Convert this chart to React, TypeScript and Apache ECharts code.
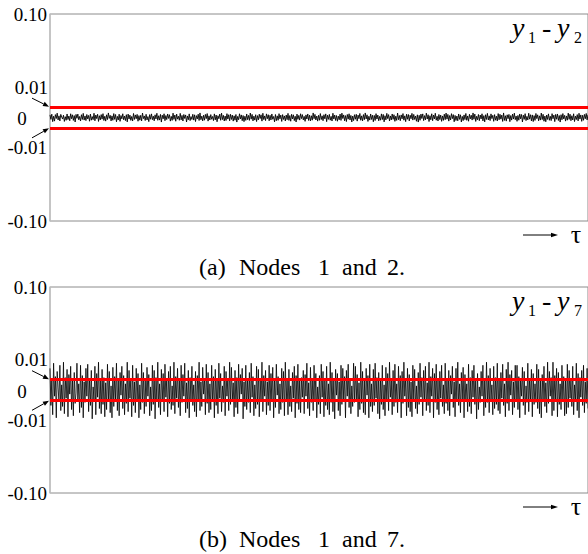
import React, { useEffect, useRef } from "react";
import * as echarts from "echarts";

// Synchronisation errors y1 - y2, in units of 1e-4
const diff12: number[] = [
  25, -18, 32, -40, 12, -35, 28, -10, 42, -24, 16, -33, 30, 5, -15, 22, -38, 8, -27, 34,
  -20, 14, -31, 36, -12, 26, -28, 18, -43, 30, -8, 33, -22, 10, -34, 27, -19, 40, -25, 15,
  -30, 29, -14, 20, -36, 33, -26, 9, -21, 41, -32, 24, -11, 31, -38, 17, -23, 28, -16, 37,
  -29, 12, -35, 26, -20, 44, -9, 21, -33, 16, -27, 38, -18, 29, -41, 11, -24, 32, -37, 19,
  -13, 36, -22, 14, -30, 27, -42, 33, -15, 23, -28, 10, -34, 39, -19, 25, -12, 30, -36, 18,
  -26, 21, -33, 43, -11, 15, -29, 31, -24, 9, -40, 28, -17, 35, -21, 13, -32, 26, -14, 41,
  -27, 17, -25, 30, -44, 22, -13, 36, -31, 19, -20, 34, -9, 27, -35, 11, -28, 42, -18, 24,
  -36, 33, -16, 12, -27, 40, -23, 20, -34, 29, -10, 25, -43, 15, -22, 35, -30, 9, -19, 31,
  -25, 26, -39, 18, -14, 32, -29, 44, -21, 13, -33, 22, -26, 30, -11, 38, -35, 16, -24, 28,
  -17, 10, -30, 35, -23, 24, -41, 17, -12, 33, -27, 42, -20, 21, -34, 14, -29, 37, -15, 27,
  -32, 31, -19, 23, -35, 16, -26, 29, -44, 11, -22, 36, -14, 25, -31, 19, -40, 12, -28, 34,
  -21, 20, -28, 43, -16, 30, -33, 13, -25, 27, -39, 18, -23, 32, -10, 26, -35, 41, -20, 15,
  -30, 35, -12, 27, -32, 21, -24, 34, -17, 10, -42, 29, -31, 16, -27, 37, -13, 23, -38, 28,
  -19, 15, -34, 24, -21, 40, -28, 19, -36, 31, -14, 26, -30, 12, -43, 33, -18, 20, -25, 36,
  -11, 28, -23, 11, -37, 25, -15, 34, -29, 22, -33, 17, -26, 44, -12, 30, -24, 14, -35, 21,
  -27, 38, -20, 16, -31, 27, -13, 35, -40, 22, -18, 30, -26, 11, -34, 41, -15, 24, -29, 19,
  -36, 13, -22, 33, -28, 42, -10, 25, -32, 18, -39, 29, -16, 36, -24, 20, -43, 14, -30, 27,
  -17, 31, -35, 23, -12, 39, -27, 16, -33, 28, -21, 44, -14, 26, -38, 12, -25, 34, -19, 22,
  -41, 20, -29, 37, -15, 24, -32, 11, -26, 35, -20, 30, -42, 17, -23, 40, -11, 28, -34, 15,
  -24, 34, -18, 27, -37, 13, -28, 43, -21, 19, -31, 25, -13, 38, -26, 16, -40, 32, -17, 29,
  -33, 22, -12, 40, -25, 30, -19, 14, -36, 26, -44, 21, -27, 33, -10, 35, -30, 18, -23, 42,
  -15, 27, -39, 17, -22, 36, -31, 24, -14, 41, -26, 12, -34, 29, -20, 23, -37, 15, -28, 32,
  -21, 43, -16, 30, -35, 19, -24, 37, -11, 28, -41, 20, -29, 14, -32, 34, -18, 26, -43, 11,
  -30, 25, -20, 39, -27, 15, -36, 31, -13, 22, -25, 44, -17, 33, -38, 12, -22, 29, -31, 24,
  -14, 36, -33, 18, -42, 27, -19, 40, -24, 16, -30, 35, -11, 21, -37, 28, -26, 13, -34, 38,
  -22, 31, -16, 23, -38, 44, -28, 17, -35, 26, -12, 30, -40, 19, -25, 33, -15, 42, -21, 14,
  -37, 20, -26, 34, -13, 29, -43, 22, -18, 37, -30, 11, -24, 41, -16, 27, -33, 25, -39, 18,
  -28, 39, -11, 26, -32, 16, -25, 43, -20, 31, -36, 14, -41, 24, -19, 35, -27, 12, -30, 37,
  -12, 23, -40, 30, -17, 34, -29, 19, -44, 27, -22, 38, -14, 21, -35, 15, -26, 42, -18, 32,
  -31, 17, -24, 36, -39, 13, -20, 28, -33, 41, -15, 25, -37, 22, -27, 30, -12, 39, -23, 26,
];

// Synchronisation errors y1 - y7, in units of 1e-4
const diff17: number[] = [
  210, -150, 90, -240, 260, -60, 130, -270, 180, 20, -110, 240, -200, 50, -160, 270, -230, 120, -80, 200,
  -260, 150, -40, 230, -190, 100, -250, 170, -130, -30, 260, -90, 60, -220, 240, -170, 140, -270, 80, -120,
  210, -60, 250, -210, 110, -150, 190, -280, 30, -100, 230, -240, 160, -70, 270, -180, 90, -230, 200, -140,
  120, -260, 70, -190, 250, -110, 180, -220, 40, -270, 220, -160, 130, -90, 260, -200, 100, -250, 170, -50,
  230, -180, 140, -240, 60, -130, 270, -210, 190, -80, 110, -260, 240, -150, 80, -220, 210, -100, 160, -270,
  50, -190, 260, -120, 170, -230, 90, -160, 220, -60, 150, -250, 30, -200, 240, -140, 190, -280, 120, -90,
  270, -170, 60, -240, 200, -110, 160, -210, 250, -70, 100, -260, 180, -130, 230, -190, 40, -150, 270, -230,
  130, -80, 210, -170, 90, -250, 240, -120, 150, -60, 260, -220, 70, -180, 190, -270, 120, -100, 230, -150,
  50, -210, 180, -260, 140, -90, 270, -200, 80, -160, 220, -40, 110, -240, 250, -130, 170, -220, 60, -190,
  240, -110, 130, -270, 200, -150, 90, -230, 260, -80, 160, -210, 40, -120, 230, -250, 180, -60, 110, -200,
  270, -140, 220, -90, 70, -260, 190, -170, 120, -230, 250, -100, 150, -40, 210, -280, 80, -160, 240, -190,
  100, -120, 170, -220, 260, -70, 130, -250, 50, -180, 230, -140, 200, -260, 90, -110, 270, -210, 140, -60,
  190, -240, 80, -150, 240, -200, 160, -90, 220, -270, 110, -170, 250, -50, 130, -230, 60, -190, 210, -120,
  180, -250, 270, -110, 100, -240, 200, -160, 40, -210, 170, -80, 230, -270, 140, -130, 250, -190, 90, -220,
  120, -70, 190, -230, 150, -60, 260, -180, 70, -250, 220, -120, 110, -200, 240, -90, 160, -270, 30, -140,
  140, -230, 250, -70, 180, -260, 100, -150, 230, -190, 60, -240, 270, -120, 170, -210, 90, -280, 200, -50,
  160, -200, 80, -250, 240, -140, 210, -90, 130, -270, 190, -60, 250, -170, 110, -230, 40, -160, 260, -120,
  230, -100, 150, -260, 70, -190, 270, -130, 180, -220, 90, -240, 210, -50, 140, -270, 250, -160, 60, -210,
  200, -150, 260, -80, 120, -230, 170, -280, 100, -140, 240, -190, 50, -250, 220, -110, 160, -200, 270, -70,
  90, -240, 190, -160, 250, -120, 60, -220, 230, -90, 140, -270, 180, -130, 270, -60, 110, -250, 210, -170,
  150, -210, 80, -260, 240, -100, 200, -180, 40, -230, 170, -140, 260, -70, 120, -250, 190, -110, 230, -200,
  70, -150, 270, -220, 130, -60, 210, -270, 160, -120, 250, -190, 90, -240, 180, -80, 240, -160, 50, -230,
  260, -130, 110, -200, 190, -250, 140, -40, 230, -170, 80, -260, 210, -110, 270, -150, 60, -220, 170, -90,
  220, -270, 150, -100, 60, -210, 250, -160, 120, -230, 190, -70, 240, -140, 100, -280, 160, -190, 30, -120,
  180, -60, 240, -250, 90, -170, 270, -120, 140, -220, 210, -90, 50, -240, 230, -180, 120, -140, 260, -200,
  110, -230, 170, -80, 250, -150, 60, -260, 200, -130, 270, -200, 150, -50, 190, -240, 80, -170, 240, -110,
  240, -190, 130, -270, 100, -60, 220, -150, 180, -240, 40, -120, 260, -210, 110, -90, 200, -260, 160, -140,
  60, -120, 250, -180, 200, -230, 90, -270, 150, -100, 230, -160, 70, -220, 270, -130, 180, -60, 120, -250,
  270, -200, 140, -90, 210, -260, 170, -140, 60, -190, 240, -110, 130, -250, 90, -230, 250, -170, 190, -80,
  100, -160, 230, -240, 50, -110, 260, -200, 160, -270, 120, -70, 190, -150, 240, -220, 80, -130, 210, -180,
];

const bandLimits = [0.01, -0.01];
const bandLabels = ["0.01", "-0.01"];
const zeroLabel = "0";
const yRange = [-0.1, 0.1];
const panelTitles = [
  ["y", "1", "y", "2"],
  ["y", "1", "y", "7"],
];
const captions = [
  ["(a)", "Nodes", "1", "and", "2."],
  ["(b)", "Nodes", "1", "and", "7."],
];
const series = [diff12, diff17];
const lineWidths = [0.9, 0.8];

const FONT = "Liberation Serif";
const INK = "#000";

function arrow(x1: number, y1: number, x2: number, y2: number, head = 6, hw = 2.4) {
  const dx = x2 - x1;
  const dy = y2 - y1;
  const L = Math.hypot(dx, dy);
  const ux = dx / L;
  const uy = dy / L;
  const bx = x2 - ux * head;
  const by = y2 - uy * head;
  return [
    { type: "line", shape: { x1, y1, x2: bx, y2: by }, style: { stroke: "#000", lineWidth: 1 }, z: 100 },
    {
      type: "polygon",
      shape: { points: [[x2, y2], [bx - uy * hw, by + ux * hw], [bx + uy * hw, by - ux * hw]] },
      style: { fill: "#000" },
      z: 100,
    },
  ];
}

export default function App() {
  const ref = useRef<HTMLDivElement>(null);
  useEffect(() => {
    if (!ref.current) return;
    const chart = echarts.init(ref.current, undefined, { renderer: "svg" });
    const grids = [
      { left: 50, top: 14, height: 207, right: -10 },
      { left: 50, top: 287, height: 206, right: -10 },
    ];
    chart.setOption({
      animation: false,
      backgroundColor: "#fff",
      textStyle: { fontFamily: FONT },
      grid: grids.map((g) => ({
        ...g,
        show: true,
        borderColor: "#8c8c8c",
        borderWidth: 1,
        containLabel: false,
      })),
      xAxis: series.map((s, i) => ({
        type: "category",
        gridIndex: i,
        boundaryGap: false,
        data: s.map((_, k) => k),
        axisLine: { show: false },
        axisTick: { show: false },
        axisLabel: { show: false },
        splitLine: { show: false },
      })),
      yAxis: series.map((_, i) => ({
        type: "value",
        gridIndex: i,
        min: yRange[0],
        max: yRange[1],
        interval: 0.1,
        axisLine: { show: true, lineStyle: { color: "#c4c4c4", width: 1.5 } },
        axisTick: { show: false },
        splitLine: { show: false },
        axisLabel: {
          margin: 3,
          fontFamily: FONT,
          fontSize: 19,
          color: INK,
          formatter: (v: number) => (Math.abs(v) < 1e-9 ? "" : v.toFixed(2)),
        },
      })),
      series: series.map((s, i) => ({
        type: "line",
        xAxisIndex: i,
        yAxisIndex: i,
        data: s.map((v) => v / 10000),
        showSymbol: false,
        symbol: "none",
        lineStyle: { color: "#000", width: lineWidths[i] },
        silent: true,
        markLine: {
          silent: true,
          symbol: "none",
          label: { show: false },
          lineStyle: { color: "#ff0000", width: 3, type: "solid" },
          data: bandLimits.map((b) => ({ yAxis: b })),
        },
      })),
    });

    const g: any[] = [];
    series.forEach((_, p) => {
      const yUp = chart.convertToPixel({ yAxisIndex: p }, bandLimits[0]) as number;
      const yDn = chart.convertToPixel({ yAxisIndex: p }, bandLimits[1]) as number;
      const y0 = chart.convertToPixel({ yAxisIndex: p }, 0) as number;
      const yTop = chart.convertToPixel({ yAxisIndex: p }, yRange[1]) as number;
      const yBot = chart.convertToPixel({ yAxisIndex: p }, yRange[0]) as number;
      const left = grids[p].left;
      const lab = { fontFamily: FONT, fontSize: 19, fill: INK, verticalAlign: "middle" };
      g.push({ type: "text", x: left - 2, y: yUp - 20, style: { ...lab, text: bandLabels[0], align: "right" }, z: 100 });
      g.push({ type: "text", x: 22, y: y0 + 1, style: { ...lab, text: zeroLabel, align: "center" }, z: 100 });
      g.push({ type: "text", x: left - 3, y: yDn + 20, style: { ...lab, text: bandLabels[1], align: "right" }, z: 100 });
      g.push(...arrow(32, yUp - 9, left - 1, yUp - 0.5));
      g.push(...arrow(32, yDn + 10, left - 1, yDn + 0.5));

      // title y_a - y_b
      const base = yTop + 23;
      const t = panelTitles[p];
      const big = 28;
      const small = 16;
      const cBig = base - 0.34 * big;
      const cSmall = base + 6 - 0.34 * small;
      const tx = [512, 528, 542, 557, 574];
      const st = { fontFamily: FONT, fill: INK, verticalAlign: "middle" };
      g.push({ type: "text", x: tx[0], y: cBig, style: { ...st, text: t[0], fontStyle: "italic", fontSize: big }, z: 100 });
      g.push({ type: "text", x: tx[1], y: cSmall, style: { ...st, text: t[1], fontSize: small }, z: 100 });
      g.push({ type: "text", x: tx[2], y: cBig, style: { ...st, text: "-", fontSize: big }, z: 100 });
      g.push({ type: "text", x: tx[3], y: cBig, style: { ...st, text: t[2], fontStyle: "italic", fontSize: big }, z: 100 });
      g.push({ type: "text", x: tx[4], y: cSmall, style: { ...st, text: t[3], fontSize: small }, z: 100 });

      // tau arrow
      const ya = yBot + 14;
      g.push(...arrow(523, ya, 558, ya, 7, 2.2));
      g.push({ type: "text", x: 576, y: ya - 1, style: { text: "τ", fontFamily: FONT, fontSize: 26, fill: INK, align: "center", verticalAlign: "middle" }, z: 100 });

      // caption
      const cx = [199, 239, 318, 342, 387];
      captions[p].forEach((w, k) => {
        g.push({ type: "text", x: cx[k], y: yBot + 46, style: { text: w, fontFamily: FONT, fontSize: 24, fill: INK, verticalAlign: "middle" }, z: 100 });
      });
    });
    chart.setOption({ graphic: g });
    return () => chart.dispose();
  }, []);
  return (
    <div
      ref={ref}
      style={{ position: "fixed", left: 0, top: 0, width: 588, height: 554, background: "#fff" }}
    />
  );
}
